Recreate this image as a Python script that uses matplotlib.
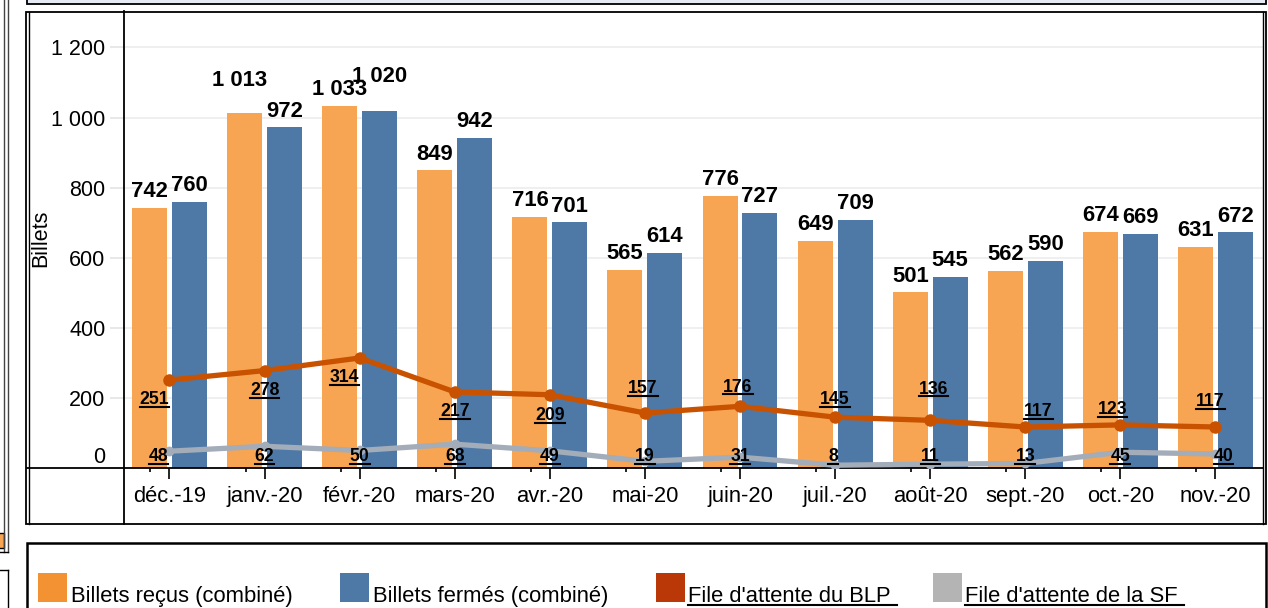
import matplotlib.pyplot as plt
from matplotlib.lines import Line2D
from matplotlib.patches import Rectangle
import numpy as np

plt.rcParams['font.family'] = ['Liberation Sans', 'DejaVu Sans']

# data
months = ['déc.-19', 'janv.-20', 'févr.-20', 'mars-20', 'avr.-20', 'mai-20',
          'juin-20', 'juil.-20', 'août-20', 'sept.-20', 'oct.-20', 'nov.-20']
billets_recus = [742, 1013, 1033, 849, 716, 565, 776, 649, 501, 562, 674, 631]
billets_fermes = [760, 972, 1020, 942, 701, 614, 727, 709, 545, 590, 669, 672]
file_blp = [251, 278, 314, 217, 209, 157, 176, 145, 136, 117, 123, 117]
file_sf = [48, 62, 50, 68, 49, 19, 31, 8, 11, 13, 45, 40]
series_names = ['Billets reçus (combiné)', 'Billets fermés (combiné)',
                "File d'attente du BLP", "File d'attente de la SF"]
y_ticks = [0, 200, 400, 600, 800, 1000, 1200]

c_recus, c_fermes = '#F7A552', '#4E79A7'
c_blp, c_sf = '#C85200', '#A3ACB9'
legend_colors = ['#F39232', '#4E79A7', '#BA3808', '#B4B4B4']

W, H = 1268, 608
fig = plt.figure(figsize=(W / 100, H / 100), dpi=100)


def fx(x):
    return x / W


def fy(y):
    return 1 - y / H


def fline(x0, y0, x1, y1, lw=1.3, color='black'):
    fig.add_artist(Line2D([fx(x0), fx(x1)], [fy(y0), fy(y1)], lw=lw, color=color,
                          transform=fig.transFigure))


def frect(x0, y0, x1, y1, fc='none', ec='black', lw=1.3):
    fig.add_artist(Rectangle((fx(x0), fy(y1)), fx(x1) - fx(x0), fy(y0) - fy(y1),
                             facecolor=fc, edgecolor=ec, lw=lw, transform=fig.transFigure))


ax = fig.add_axes([fx(124), fy(468), fx(1263) - fx(124), fy(11) - fy(468)])

x = np.arange(len(months))
bw = 0.368
off = 0.21
ax.bar(x - off, billets_recus, bw, color=c_recus, zorder=2)
ax.bar(x + off, billets_fermes, bw, color=c_fermes, zorder=2)
ax.plot(x, file_blp, color=c_blp, lw=3.8, marker='o', ms=8, zorder=3)
ax.plot(x, file_sf, color=c_sf, lw=3.8, marker='o', ms=6, zorder=3)

ax.set_xlim(-0.4785, 11.5)
ax.set_ylim(0, 1304)


def fmt(v):
    return f'{v:,}'.replace(',', ' ')


# bar labels (centre of digits ~18 px above bar top)
bar_dy = {('r', 1): (-5, 35), ('f', 2): (0, 36.6)}
for i in range(len(months)):
    for key, vals, sx in (('r', billets_recus, -off), ('f', billets_fermes, off)):
        dx, dc = bar_dy.get((key, i), (0, 18.5))
        ax.annotate(fmt(vals[i]), (x[i] + sx, vals[i]), xytext=(dx, dc - 7.7),
                    textcoords='offset pixels', ha='center', va='baseline',
                    fontsize=15.8, fontweight='bold', zorder=5)

underlined = []
blp_offsets = [(-15, -18), (0, -18.5), (-15, -18), (0, -18), (0, -19), (-2, 26),
               (-2, 21), (0, 19), (3, 33), (13, 17.5), (-8, 17), (-5, 27)]
for i, v in enumerate(file_blp):
    dx, dc = blp_offsets[i]
    t = ax.annotate(str(v), (x[i], v), xytext=(dx, dc - 6.3), textcoords='offset pixels',
                    ha='center', va='baseline', fontsize=12.7, fontweight='bold', zorder=5)
    underlined.append(t)

sf_dx = [-11, 0, 0, 0, 0, 0, 0, -2, 0, 0, 0, 8]
for i, v in enumerate(file_sf):
    t = ax.annotate(str(v), (x[i], 0), xytext=(sf_dx[i], 13 - 6.3), textcoords='offset pixels',
                    ha='center', va='baseline', fontsize=12.7, fontweight='bold', zorder=5)
    underlined.append(t)

# axes styling
ax.set_yticks(y_ticks)
ax.set_yticklabels([fmt(v) for v in y_ticks])
ax.get_yticklabels()[0].set_va('bottom')
ax.tick_params(axis='y', length=10, color='#e4e4e4', width=1.2, pad=3.5, labelsize=15.5)
ax.yaxis.grid(True, color='#ececec', lw=1.2, zorder=0)
ax.set_axisbelow(True)

ax.set_xticks(x)
ax.set_xticklabels(months)
ax.set_xticks(x - 0.2, minor=True)
ax.tick_params(axis='x', which='major', length=8, width=1.2, pad=5, labelsize=15.8)
ax.tick_params(axis='x', which='minor', length=3, width=1.2)

for s in ('top', 'right'):
    ax.spines[s].set_visible(False)
ax.spines['left'].set_linewidth(1.3)
ax.spines['bottom'].set_linewidth(1.3)

fig.text(fx(41), fy(238), 'Billets', rotation=90, ha='center', va='center', fontsize=15.5)

# frames of the dashboard
frect(27, -3, 1266, 4, fc='#e6eaf4', lw=1.3)
frect(26.5, 11.5, 1266, 524, lw=1.3)
fline(29.3, 11.5, 29.3, 524, lw=1.0)
fline(1263.3, 11.5, 1263.3, 524, lw=1.0)
fline(124, 468, 124, 524)
fline(27, 468, 124, 468)
frect(27, 543, 1266, 630, lw=1.8)
fline(3.5, 0, 3.5, 552, lw=1.0, color='#444444')
fline(7.5, 0, 7.5, 552, lw=1.0, color='#444444')
frect(-5, 533, 4, 548, fc=c_recus, lw=1.0)
fline(0, 552, 8, 552, lw=1.0)
fline(0, 570, 8, 570, lw=1.0)
fline(8, 570, 8, 620, lw=1.0)

# legend
sw_x = [38, 340, 656, 933]
tx_x = [71, 373, 688, 965]
for k, name in enumerate(series_names):
    frect(sw_x[k], 573, sw_x[k] + 29, 602, fc=legend_colors[k], ec='none', lw=0)
    t = fig.text(fx(tx_x[k]), fy(602), name + ('\u00a0' if k >= 2 else ''),
                 ha='left', va='baseline', fontsize=15.8)
    if k >= 2:
        underlined.append(t)

# underline selected texts
fig.canvas.draw()
r = fig.canvas.get_renderer()
inv = fig.transFigure.inverted()
for t in underlined:
    bb = t.get_window_extent(r)
    if hasattr(t, 'xyann'):
        base = bb.y0 + 0.21 * t.get_fontsize() * 100 / 72
    else:
        base = t.get_transform().transform(t.get_position())[1]
    y0 = base - 2.5
    (a0, b0) = inv.transform((bb.x0, y0))
    (a1, b1) = inv.transform((bb.x1, y0))
    fig.add_artist(Line2D([a0, a1], [b0, b1], color='black', lw=1.5, transform=fig.transFigure))

fig.savefig('out.png', dpi=100)
